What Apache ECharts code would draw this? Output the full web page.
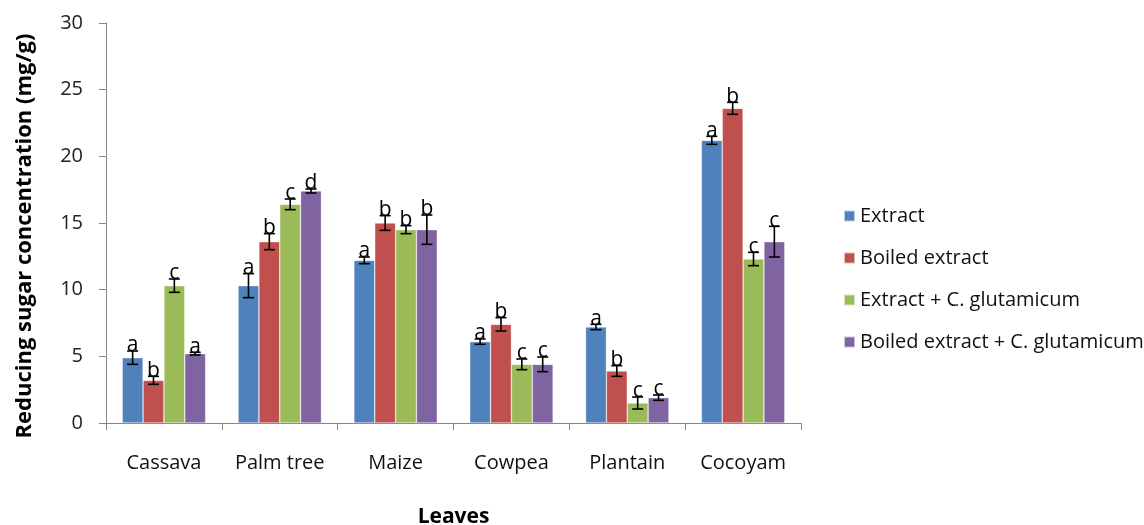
<!DOCTYPE html>
<html>
<head>
<meta charset="utf-8">
<script src="https://cdn.jsdelivr.net/npm/echarts@6/dist/echarts.min.js"></script>
<style>
  html, body { margin: 0; padding: 0; background: #fff; }
  #chart { width: 1144px; height: 525px; }
</style>
</head>
<body>
<div id="chart"></div>
<script>
// Leaf types on the x axis
const categories = ['Cassava', 'Palm tree', 'Maize', 'Cowpea', 'Plantain', 'Cocoyam'];

// Reducing sugar concentration (mg/g) per treatment
const extract        = [4.9, 10.3, 12.2, 6.1, 7.2, 21.2];
const boiled         = [3.2, 13.6, 15.0, 7.4, 3.9, 23.6];
const extractCg      = [10.3, 16.4, 14.5, 4.4, 1.5, 12.3];
const boiledCg       = [5.2, 17.4, 14.5, 4.4, 1.9, 13.6];

// Error bar half-widths (mg/g)
const extractErr     = [0.5, 0.9, 0.25, 0.2, 0.2, 0.3];
const boiledErr      = [0.3, 0.6, 0.55, 0.5, 0.4, 0.45];
const extractCgErr   = [0.5, 0.4, 0.3, 0.4, 0.45, 0.5];
const boiledCgErr    = [0.1, 0.15, 1.1, 0.55, 0.2, 1.15];

// Significance letters above each bar
const extractSig     = ['a', 'a', 'a', 'a', 'a', 'a'];
const boiledSig      = ['b', 'b', 'b', 'b', 'b', 'b'];
const extractCgSig   = ['c', 'c', 'b', 'c', 'c', 'c'];
const boiledCgSig    = ['a', 'd', 'b', 'c', 'c', 'c'];

const yTicks = [0, 5, 10, 15, 20, 25, 30];

const seriesDefs = [
  { name: 'Extract', values: extract, err: extractErr, sig: extractSig, color: '#4F81BD' },
  { name: 'Boiled extract', values: boiled, err: boiledErr, sig: boiledSig, color: '#C0504D' },
  { name: 'Extract + C. glutamicum', values: extractCg, err: extractCgErr, sig: extractCgSig, color: '#9BBB59' },
  { name: 'Boiled extract + C. glutamicum', values: boiledCg, err: boiledCgErr, sig: boiledCgSig, color: '#8064A2' }
];

const CATEGORY_GAP = 0.28;
const nBars = seriesDefs.length;
const FONT = '"Open Sans", Lato, sans-serif';

const series = [];
seriesDefs.forEach((d, i) => {
  series.push({
    name: d.name,
    type: 'bar',
    data: d.values,
    barGap: '0%',
    barCategoryGap: (CATEGORY_GAP * 100) + '%',
    itemStyle: { color: d.color, borderColor: 'rgba(255,255,255,0.6)', borderWidth: 0.6 },
    emphasis: { disabled: true },
    z: 2
  });
  // error bars and significance letters, aligned with the bar of this series
  series.push({
    name: d.name,
    type: 'custom',
    data: d.values.map((v, k) => [k, v, d.err[k]]),
    encode: { x: 0, y: 1 },
    z: 5,
    silent: true,
    renderItem: function (params, api) {
      const k = api.value(0);
      const v = api.value(1);
      const e = api.value(2);
      const letter = d.sig[k];
      const band = api.size([1, 0])[0];
      const barW = band * (1 - CATEGORY_GAP) / nBars;
      const center = api.coord([k, v]);
      const x = center[0] + (i - (nBars - 1) / 2) * barW;
      const yHi = api.coord([k, v + e])[1];
      const yLo = api.coord([k, v - e])[1];
      const cap = 5.5;
      const st = { stroke: '#000', lineWidth: 1.6 };
      return {
        type: 'group',
        children: [
          { type: 'line', shape: { x1: x, y1: yHi, x2: x, y2: yLo }, style: st },
          { type: 'line', shape: { x1: x - cap, y1: yHi, x2: x + cap, y2: yHi }, style: st },
          { type: 'line', shape: { x1: x - cap, y1: yLo, x2: x + cap, y2: yLo }, style: st },
          {
            type: 'text',
            x: x,
            y: yHi + 5,
            style: {
              text: letter,
              fill: '#000',
              font: '21px ' + FONT,
              align: 'center',
              verticalAlign: 'bottom'
            }
          }
        ]
      };
    }
  });
});

const chart = echarts.init(document.getElementById('chart'), null, { renderer: 'canvas' });
chart.setOption({
  animation: false,
  backgroundColor: '#ffffff',
  color: seriesDefs.map(d => d.color),
  grid: { left: 106, right: 343, top: 23, bottom: 102, containLabel: false, outerBoundsMode: 'none' },
  legend: {
    orient: 'vertical',
    left: 838,
    top: 200,
    itemWidth: 11,
    itemHeight: 11,
    itemGap: 20,
    icon: 'rect',
    data: seriesDefs.map(d => d.name),
    textStyle: { fontFamily: FONT, fontSize: 20, color: '#111', lineHeight: 22 }
  },
  xAxis: {
    type: 'category',
    data: categories,
    name: 'Leaves',
    nameLocation: 'middle',
    nameGap: 84,
    nameTextStyle: { fontFamily: FONT, fontSize: 21, fontWeight: 'bold', color: '#000' },
    axisLine: { lineStyle: { color: '#868686', width: 1 } },
    axisTick: { show: true, interval: 0, length: 7, lineStyle: { color: '#868686' } },
    axisLabel: { interval: 0, fontFamily: FONT, fontSize: 20, color: '#111', margin: 30 }
  },
  yAxis: {
    type: 'value',
    min: yTicks[0],
    max: yTicks[yTicks.length - 1],
    interval: yTicks[1] - yTicks[0],
    name: 'Reducing sugar concentration (mg/g)',
    nameLocation: 'middle',
    nameGap: 70,
    nameTextStyle: { fontFamily: FONT, fontSize: 22, fontWeight: 'bold', color: '#000', padding: [0, 26, 0, 0] },
    axisLine: { show: true, lineStyle: { color: '#868686', width: 1 } },
    axisTick: { show: true, length: 7, lineStyle: { color: '#868686' } },
    splitLine: { show: false },
    axisLabel: { fontFamily: FONT, fontSize: 20, color: '#222', margin: 23 }
  },
  series: series
});
</script>
</body>
</html>
